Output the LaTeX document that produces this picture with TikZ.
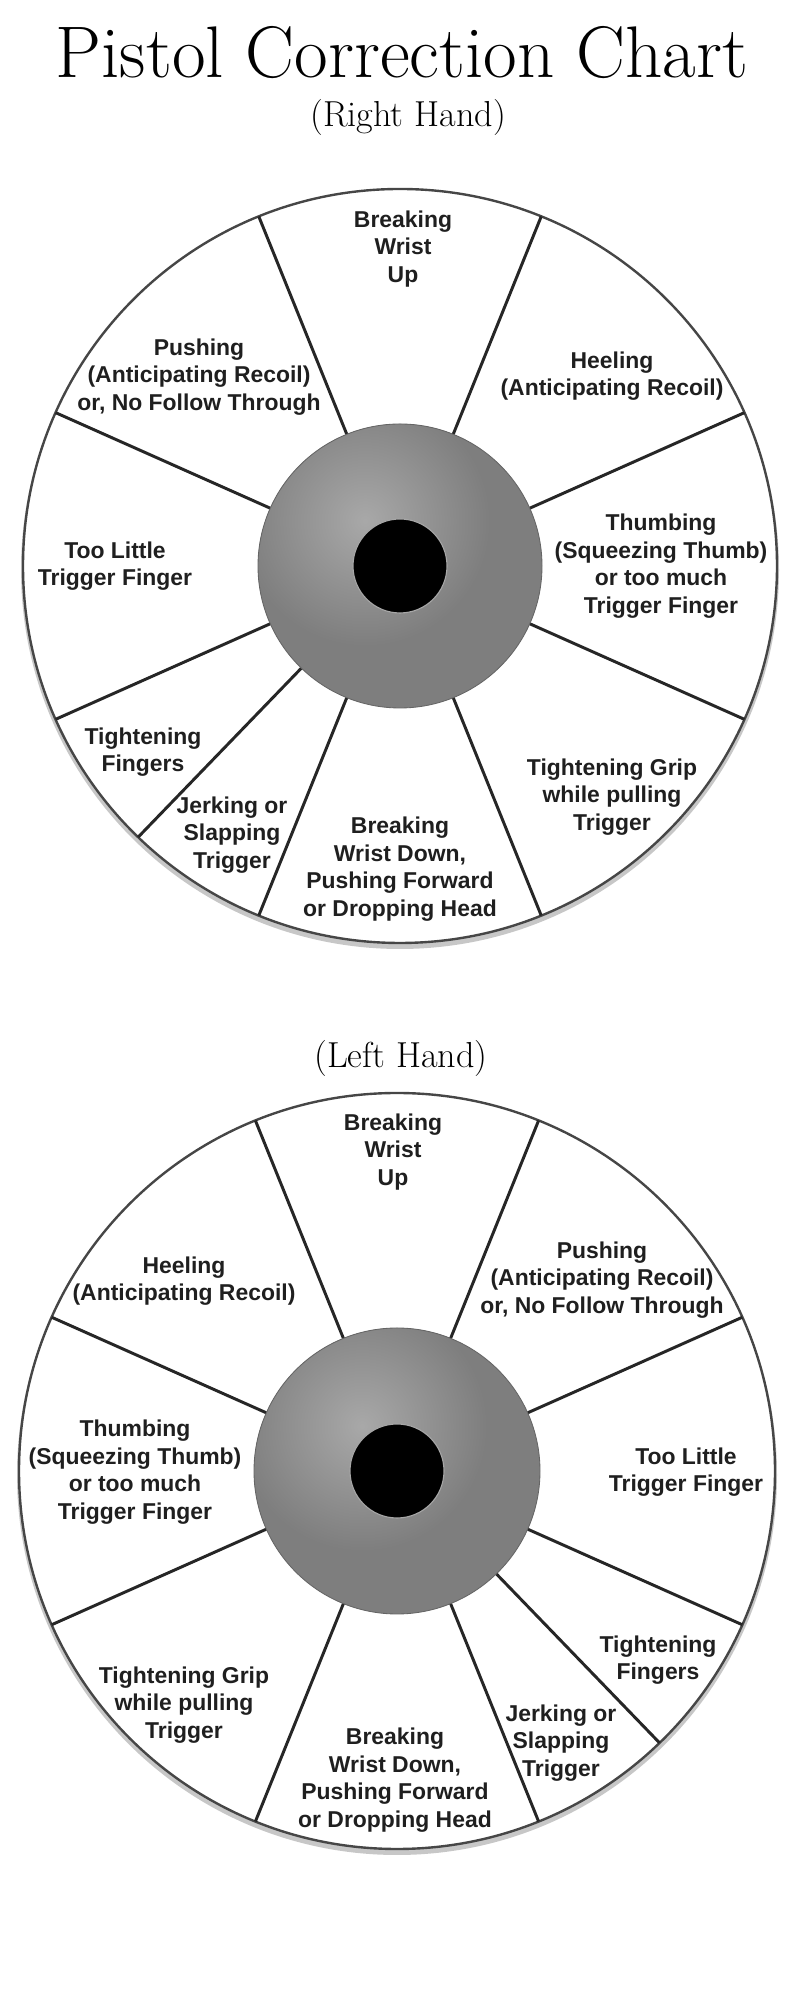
\documentclass[tikz,border=0pt]{standalone}
\usepackage{fontspec}
\newfontfamily\cuefont{Liberation Sans}
\usetikzlibrary{calc}

\definecolor{ringgray}{RGB}{126,126,126}
\definecolor{rimgray}{RGB}{70,70,70}

\begin{document}
\begin{tikzpicture}[
		x=0.025cm, y=0.025cm,
		fault/.style={font=\cuefont\bfseries\fontsize{16.3pt}{19.6pt}\selectfont, align=center, text=black!88, inner sep=0pt},
		heading/.style={font=\fontsize{25.7pt}{28pt}\selectfont, anchor=base, inner sep=0pt},
		spoke/.style={line width=2.1pt, black!85},
		rim/.style={fill=white, draw=rimgray, line width=1.7pt}
		]
		\useasboundingbox (0,0) rectangle (800,2000);

		% Titles
		\node (title) [anchor=base, inner sep=0pt, font=\fontsize{52pt}{56pt}\selectfont] at (402,1922) {Pistol Correction Chart};
		\node (right) [heading] at (408,1873) {(Right Hand)};
		\node (left) [heading] at (401,932) {(Left Hand)};

		% Wheel centres
		\coordinate (rc) at (400,1434);
		\coordinate (lc) at (397,529);

		% Right hand wheel
		\fill[black!22] ($(rc)+(0,-4)$) circle (379);
		\filldraw[rim] (rc) circle (377);
		\foreach \a in {24,68,112,156,204,226,248,292,336}
			\draw[spoke] ($(rc)+(\a:140)$) -- ($(rc)+(\a:377)$);
		\fill[ringgray] (rc) circle (142);
		\begin{scope}
			\clip (rc) circle (142);
			\shade[inner color=gray!68, outer color=ringgray] ($(rc)+(-35,45)$) circle (125);
		\end{scope}
		\draw[ringgray!80!black, line width=0.6pt] (rc) circle (142);
		\filldraw[fill=black, draw=gray!70, line width=0.8pt] (rc) circle (47);

		% Right hand faults
		\node (rup) [fault] at (403,1751) {Breaking\\Wrist\\Up};
		\node (rpush) [fault] at (199,1623) {Pushing\\(Anticipating Recoil)\\or, No Follow Through};
		\node (rheel) [fault] at (612,1624) {Heeling\\(Anticipating Recoil)};
		\node (rthumb) [fault] at (661,1434) {Thumbing\\(Squeezing Thumb)\\or too much\\Trigger Finger};
		\node (rlittle) [fault] at (115,1434) {Too Little\\Trigger Finger};
		\node (rfing) [fault] at (143,1248) {Tightening\\Fingers};
		\node (rjerk) [fault] at (232,1165) {Jerking or\\Slapping\\Trigger};
		\node (rdown) [fault] at (400,1131) {Breaking\\Wrist Down,\\Pushing Forward\\or Dropping Head};
		\node (rgrip) [fault] at (612,1203) {Tightening Grip\\while pulling\\Trigger};

		% Left hand wheel
		\fill[black!22] ($(lc)+(0,-4)$) circle (380);
		\filldraw[rim] (lc) circle (378);
		\foreach \a in {24,68,112,156,204,248,292,314,336}
			\draw[spoke] ($(lc)+(\a:141)$) -- ($(lc)+(\a:378)$);
		\fill[ringgray] (lc) circle (143);
		\begin{scope}
			\clip (lc) circle (143);
			\shade[inner color=gray!68, outer color=ringgray] ($(lc)+(-35,45)$) circle (125);
		\end{scope}
		\draw[ringgray!80!black, line width=0.6pt] (lc) circle (143);
		\filldraw[fill=black, draw=gray!70, line width=0.8pt] (lc) circle (47);

		% Left hand faults
		\node (lup) [fault] at (393,848) {Breaking\\Wrist\\Up};
		\node (lheel) [fault] at (184,719) {Heeling\\(Anticipating Recoil)};
		\node (lpush) [fault] at (602,720) {Pushing\\(Anticipating Recoil)\\or, No Follow Through};
		\node (lthumb) [fault] at (135,528) {Thumbing\\(Squeezing Thumb)\\or too much\\Trigger Finger};
		\node (llittle) [fault] at (686,528) {Too Little\\Trigger Finger};
		\node (lgrip) [fault] at (184,295) {Tightening Grip\\while pulling\\Trigger};
		\node (ldown) [fault] at (395,220) {Breaking\\Wrist Down,\\Pushing Forward\\or Dropping Head};
		\node (ljerk) [fault] at (561,257) {Jerking or\\Slapping\\Trigger};
		\node (lfing) [fault] at (658,340) {Tightening\\Fingers};

	\end{tikzpicture}
\end{document}
